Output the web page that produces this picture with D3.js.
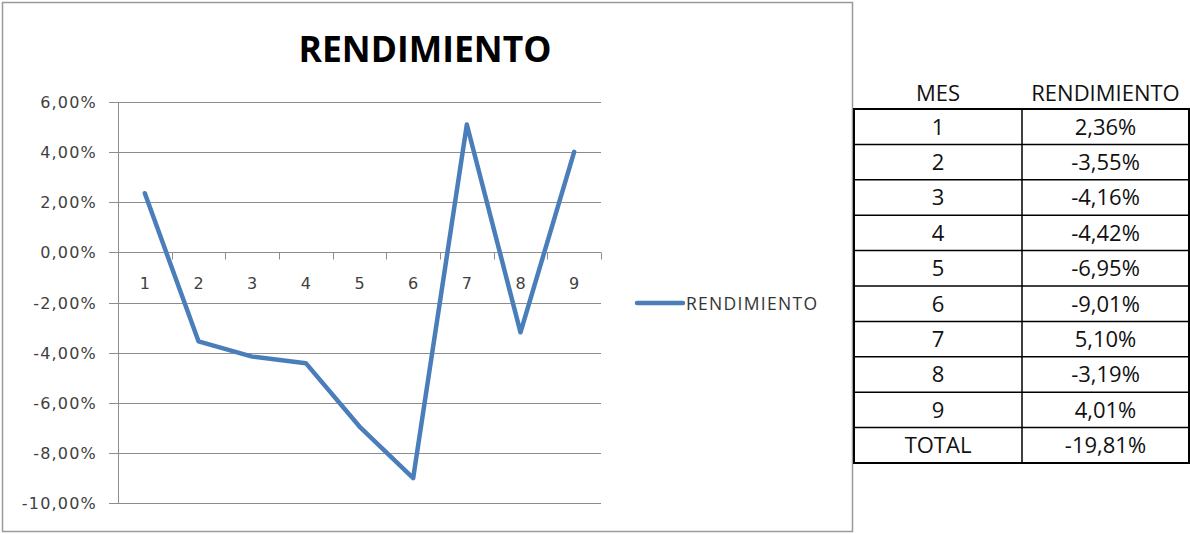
<!DOCTYPE html>
<html>
<head>
<meta charset="utf-8">
<script src="https://cdn.jsdelivr.net/npm/d3@7"></script>
<style>
  body { margin: 0; background: #fff; }
  svg text { font-family: "Open Sans", "Noto Sans", sans-serif; }
  svg text.ylab, svg text.xlab { font-family: "DejaVu Sans", sans-serif; }
</style>
</head>
<body>
<svg id="chart" width="1190" height="534"></svg>
<script>
// data
const months = [1, 2, 3, 4, 5, 6, 7, 8, 9];
const rendimiento = [2.36, -3.55, -4.16, -4.42, -6.95, -9.01, 5.10, -3.19, 4.01];
const yTicks = [6, 4, 2, 0, -2, -4, -6, -8, -10];
const seriesName = 'RENDIMIENTO';
const tableHeader = ['MES', 'RENDIMIENTO'];
const totalLabel = 'TOTAL';

const es = d3.formatLocale({ decimal: ',', thousands: '.', grouping: [3], currency: ['', '€'], minus: '-' });
const pct = (v) => es.format('.2f')(v) + '%';

const svg = d3.select('#chart');
const lineColor = '#4a7ebb';
const gridColor = '#8c8c8c';

// chart frame
svg.append('rect')
  .attr('x', 2.5).attr('y', 2.5)
  .attr('width', 850).attr('height', 529)
  .attr('fill', '#fff')
  .attr('stroke', '#9a9a9a')
  .attr('stroke-width', 1.5);

svg.append('text')
  .attr('x', 425).attr('y', 62)
  .attr('text-anchor', 'middle')
  .attr('font-size', 35.5)
  .attr('font-weight', 'bold')
  .attr('fill', '#000')
  .text(seriesName);

// plot area
const plot = { left: 118, right: 601, top: 102, bottom: 503 };

const x = d3.scaleBand()
  .domain(months)
  .range([plot.left, plot.right]);

const y = d3.scaleLinear()
  .domain([-10, 6])
  .range([plot.bottom, plot.top]);

const g = svg.append('g');

// horizontal gridlines
g.selectAll('line.grid')
  .data(yTicks)
  .join('line')
  .attr('class', 'grid')
  .attr('x1', plot.left - 9).attr('x2', plot.right)
  .attr('y1', (d) => Math.round(y(d)) + 0.5)
  .attr('y2', (d) => Math.round(y(d)) + 0.5)
  .attr('stroke', gridColor)
  .attr('stroke-width', 1);

// y axis line
g.append('line')
  .attr('x1', plot.left + 0.5).attr('x2', plot.left + 0.5)
  .attr('y1', plot.top).attr('y2', plot.bottom + 0.5)
  .attr('stroke', gridColor);

// y labels
g.selectAll('text.ylab')
  .data(yTicks)
  .join('text')
  .attr('class', 'ylab')
  .attr('x', plot.left - 21)
  .attr('y', (d) => y(d) + 6)
  .attr('text-anchor', 'end')
  .attr('font-size', 16)
  .attr('letter-spacing', 1.2)
  .attr('fill', '#404040')
  .text((d) => pct(d));

// category ticks on the zero line
const zeroY = Math.round(y(0)) + 0.5;
const boundaries = months.map((m) => x(m)).concat([plot.right]).slice(1);
g.selectAll('line.xtick')
  .data(boundaries)
  .join('line')
  .attr('class', 'xtick')
  .attr('x1', (d) => Math.round(d) + 0.5)
  .attr('x2', (d) => Math.round(d) + 0.5)
  .attr('y1', zeroY).attr('y2', zeroY + 7)
  .attr('stroke', gridColor);

// x labels
g.selectAll('text.xlab')
  .data(months)
  .join('text')
  .attr('class', 'xlab')
  .attr('x', (d) => x(d) + x.bandwidth() / 2)
  .attr('y', zeroY + 36)
  .attr('text-anchor', 'middle')
  .attr('font-size', 16)
  .attr('fill', '#404040')
  .text((d) => d);

// series line
const line = d3.line()
  .x((d, i) => x(months[i]) + x.bandwidth() / 2)
  .y((d) => y(d));

g.append('path')
  .datum(rendimiento)
  .attr('d', line)
  .attr('fill', 'none')
  .attr('stroke', lineColor)
  .attr('stroke-width', 4.5)
  .attr('stroke-linejoin', 'round')
  .attr('stroke-linecap', 'round');

// legend
const legend = svg.append('g').attr('transform', 'translate(637,303)');
legend.append('line')
  .attr('x1', 0).attr('x2', 46)
  .attr('stroke', lineColor)
  .attr('stroke-width', 4.5)
  .attr('stroke-linecap', 'round');
legend.append('text')
  .attr('x', 49).attr('y', 7)
  .attr('font-size', 17.5)
  .attr('letter-spacing', 1.3)
  .attr('fill', '#333')
  .text(seriesName);

// table
const table = { left: 854, right: 1189, top: 109, rowH: 35.4, split: 1022 };
const total = d3.sum(rendimiento);
const rows = months.map((m, i) => [String(m), pct(rendimiento[i])])
  .concat([[totalLabel, pct(total)]]);
const colCenter = [(table.left + table.split) / 2, (table.split + table.right) / 2];

const tg = svg.append('g');
tg.selectAll('text.head')
  .data(tableHeader)
  .join('text')
  .attr('class', 'head')
  .attr('x', (d, i) => colCenter[i])
  .attr('y', table.top - 8)
  .attr('text-anchor', 'middle')
  .attr('font-size', 22)
  .attr('fill', '#111')
  .text((d) => d);

const rowG = tg.selectAll('g.row')
  .data(rows)
  .join('g')
  .attr('class', 'row')
  .attr('transform', (d, i) => `translate(0,${table.top + i * table.rowH})`);

rowG.selectAll('text')
  .data((d) => d)
  .join('text')
  .attr('x', (d, i) => colCenter[i])
  .attr('y', table.rowH / 2 + 8)
  .attr('text-anchor', 'middle')
  .attr('font-size', 22)
  .attr('fill', '#111')
  .text((d) => d);

// inner row lines
tg.selectAll('line.hline')
  .data(d3.range(1, rows.length))
  .join('line')
  .attr('class', 'hline')
  .attr('x1', table.left).attr('x2', table.right)
  .attr('y1', (d) => table.top + d * table.rowH)
  .attr('y2', (d) => table.top + d * table.rowH)
  .attr('stroke', '#000')
  .attr('stroke-width', 1.5);

tg.append('line')
  .attr('x1', table.split).attr('x2', table.split)
  .attr('y1', table.top).attr('y2', table.top + rows.length * table.rowH)
  .attr('stroke', '#000')
  .attr('stroke-width', 1.5);

tg.append('rect')
  .attr('x', table.left).attr('y', table.top)
  .attr('width', table.right - table.left)
  .attr('height', rows.length * table.rowH)
  .attr('fill', 'none')
  .attr('stroke', '#000')
  .attr('stroke-width', 2);
</script>
</body>
</html>
